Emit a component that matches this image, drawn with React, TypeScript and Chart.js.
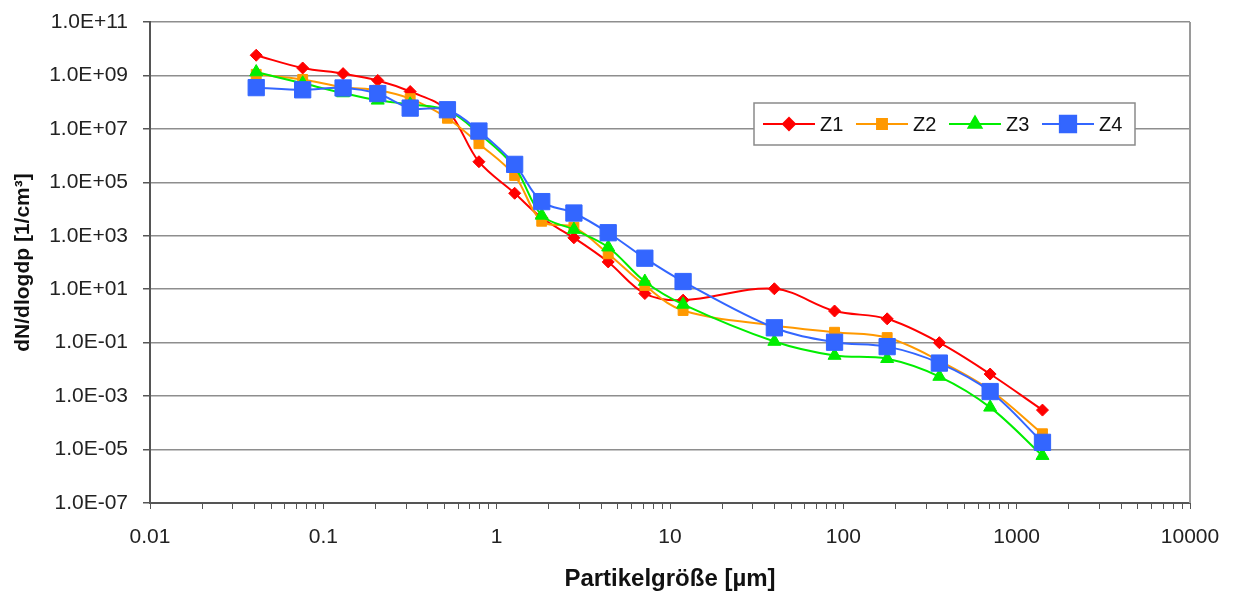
import React, { useEffect, useRef } from 'react';
import { Chart, registerables } from 'chart.js';
import { drawPoint } from 'chart.js/helpers';

Chart.register(...registerables);

// Particle size classes [µm]
const sizes = [0.041, 0.076, 0.13, 0.206, 0.317, 0.52, 0.79, 1.27, 1.82, 2.79, 4.4, 7.16, 11.9, 40, 89, 179, 358, 703, 1409];

// dN/dlogdp [1/cm³] per zone
const z1 = [5.7e9, 1.9e9, 1.17e9, 6.5e8, 2.5e8, 4.9e7, 5.9e5, 3.9e4, 4.7e3, 840, 105, 6.9, 3.9, 10.4, 1.53, 0.78, 0.1, 0.0067, 3.0e-4];
const z2 = [1.1e9, 7.1e8, 3.6e8, 2.8e8, 1.35e8, 2.5e7, 2.8e6, 1.8e5, 3.5e3, 2.1e3, 212, 13.8, 1.6, 0.44, 0.245, 0.155, 0.021, 0.0017, 3.9e-5];
const z3 = [1.34e9, 5.1e8, 2.2e8, 1.17e8, 8.3e7, 4.9e7, 6.8e6, 3.7e5, 5.8e3, 1.7e3, 374, 19.4, 2.7, 0.11, 0.033, 0.025, 0.0054, 3.8e-4, 5.9e-6];
const z4 = [3.5e8, 2.9e8, 3.4e8, 2.1e8, 6.0e7, 5.2e7, 8.3e6, 4.7e5, 1.9e4, 7.1e3, 1.3e3, 145, 19.4, 0.36, 0.104, 0.071, 0.0172, 0.00148, 1.86e-5];

const seriesNames = ['Z1', 'Z2', 'Z3', 'Z4'];
const seriesColors = ['#ff0000', '#ff9900', '#00ee00', '#3366ff'];
const seriesStyles = ['rectRot', 'rect', 'triangle', 'rect'];
const seriesRadius = [6, 7, 7.5, 11.5];

const xTickLabels = ['0.01', '0.1', '1', '10', '100', '1000', '10000'];
const yTickValues = [1e-7, 1e-5, 1e-3, 1e-1, 1e1, 1e3, 1e5, 1e7, 1e9, 1e11];

const xTitle = 'Partikelgröße [µm]';
const yTitle = 'dN/dlogdp [1/cm³]';

const FONT = "'Liberation Sans', Arial, sans-serif";

function formatSci(v: number): string {
  const e = Math.round(Math.log10(v));
  const sign = e < 0 ? '-' : '+';
  return `1.0E${sign}${String(Math.abs(e)).padStart(2, '0')}`;
}

// x ticks: every 1..9 × 10^n, labelled only at the decades
function buildXTicks(): { value: number; label: string }[] {
  const out: { value: number; label: string }[] = [];
  xTickLabels.forEach((lab, i) => {
    const base = parseFloat(lab);
    out.push({ value: base, label: lab });
    if (i < xTickLabels.length - 1) {
      for (let k = 2; k <= 9; k++) out.push({ value: parseFloat((base * k).toPrecision(6)), label: '' });
    }
  });
  return out;
}

const frame = {
  id: 'frame',
  beforeDraw(chart: any) {
    const { ctx, width, height } = chart;
    ctx.save();
    ctx.fillStyle = '#ffffff';
    ctx.fillRect(0, 0, width, height);
    ctx.restore();
  },
  afterDraw(chart: any) {
    const { ctx, chartArea } = chart;
    ctx.save();
    // right border of the plot
    ctx.strokeStyle = '#9a9a9a';
    ctx.lineWidth = 2;
    ctx.beginPath();
    ctx.moveTo(chartArea.right, chartArea.top);
    ctx.lineTo(chartArea.right, chartArea.bottom);
    ctx.stroke();

    // axis titles
    ctx.fillStyle = '#111';
    ctx.textAlign = 'center';
    ctx.textBaseline = 'middle';
    ctx.font = `bold 24px ${FONT}`;
    ctx.fillText(xTitle, (chartArea.left + chartArea.right) / 2, 579);
    ctx.font = `bold 21px ${FONT}`;
    ctx.translate(23, (chartArea.top + chartArea.bottom) / 2);
    ctx.rotate(-Math.PI / 2);
    ctx.fillText(yTitle, 0, 0);
    ctx.restore();

    // legend box
    ctx.save();
    const bx = 754, by = 103, bw = 381, bh = 42;
    ctx.fillStyle = '#ffffff';
    ctx.fillRect(bx, by, bw, bh);
    ctx.strokeStyle = '#8a8a8a';
    ctx.lineWidth = 1.5;
    ctx.strokeRect(bx, by, bw, bh);
    const cy = by + bh / 2;
    seriesNames.forEach((name, i) => {
      const x0 = bx + 9 + i * 93;
      ctx.strokeStyle = seriesColors[i];
      ctx.fillStyle = seriesColors[i];
      ctx.lineWidth = 2;
      ctx.beginPath();
      ctx.moveTo(x0, cy);
      ctx.lineTo(x0 + 52, cy);
      ctx.stroke();
      drawPoint(ctx, { pointStyle: seriesStyles[i], radius: seriesRadius[i], rotation: 0, borderWidth: 1 } as any, x0 + 26, cy);
      ctx.fillStyle = '#111';
      ctx.font = `20px ${FONT}`;
      ctx.textAlign = 'left';
      ctx.textBaseline = 'middle';
      ctx.fillText(name, x0 + 57, cy + 1);
    });
    ctx.restore();
  },
};

export default function App() {
  const ref = useRef<HTMLCanvasElement | null>(null);

  useEffect(() => {
    document.body.style.margin = '0';
    const canvas = ref.current;
    if (!canvas) return;
    const all = [z1, z2, z3, z4];
    const xTicks = buildXTicks();

    const chart = new Chart(canvas, {
      type: 'line',
      data: {
        datasets: all.map((vals, i) => ({
          label: seriesNames[i],
          data: vals.map((v, j) => ({ x: sizes[j], y: v })),
          borderColor: seriesColors[i],
          backgroundColor: seriesColors[i],
          pointBackgroundColor: seriesColors[i],
          pointBorderColor: seriesColors[i],
          pointStyle: seriesStyles[i] as any,
          pointRadius: seriesRadius[i],
          pointBorderWidth: 1,
          borderWidth: 2,
          tension: 0.35,
          fill: false,
          order: 3 - i,
        })),
      },
      options: {
        animation: false,
        responsive: false,
        devicePixelRatio: 1,
        layout: { padding: { left: 0, right: 46, top: 22, bottom: 0 } },
        plugins: { legend: { display: false }, tooltip: { enabled: false } },
        scales: {
          x: {
            type: 'logarithmic',
            min: 0.01,
            max: 10000,
            afterFit: (s: any) => { s.height = 90; s.paddingLeft = 0; s.paddingRight = 0; },
            afterBuildTicks: (s: any) => { s.ticks = xTicks.map((t) => ({ value: t.value })); },
            grid: { display: true, drawOnChartArea: false, drawTicks: true, tickLength: 6, tickColor: '#555' },
            border: { color: '#555', width: 2 },
            ticks: {
              autoSkip: false,
              maxRotation: 0,
              padding: 16,
              color: '#222',
              font: { family: FONT, size: 21 },
              callback: (_v: any, i: number) => xTicks[i] ? xTicks[i].label : '',
            },
          },
          y: {
            type: 'logarithmic',
            min: 1e-7,
            max: 1e11,
            afterFit: (s: any) => { s.width = 150; s.paddingTop = 0; s.paddingBottom = 0; },
            afterBuildTicks: (s: any) => { s.ticks = yTickValues.map((v) => ({ value: v })); },
            grid: { color: '#8e8e8e', lineWidth: 1.5, drawTicks: true, tickLength: 7, tickColor: '#555' },
            border: { color: '#555', width: 2 },
            ticks: {
              autoSkip: false,
              padding: 15,
              color: '#222',
              font: { family: FONT, size: 21 },
              callback: (v: any) => formatSci(Number(v)),
            },
          },
        },
      },
      plugins: [frame],
    });
    return () => chart.destroy();
  }, []);

  return <canvas ref={ref} width={1236} height={593} style={{ display: 'block' }} />;
}
